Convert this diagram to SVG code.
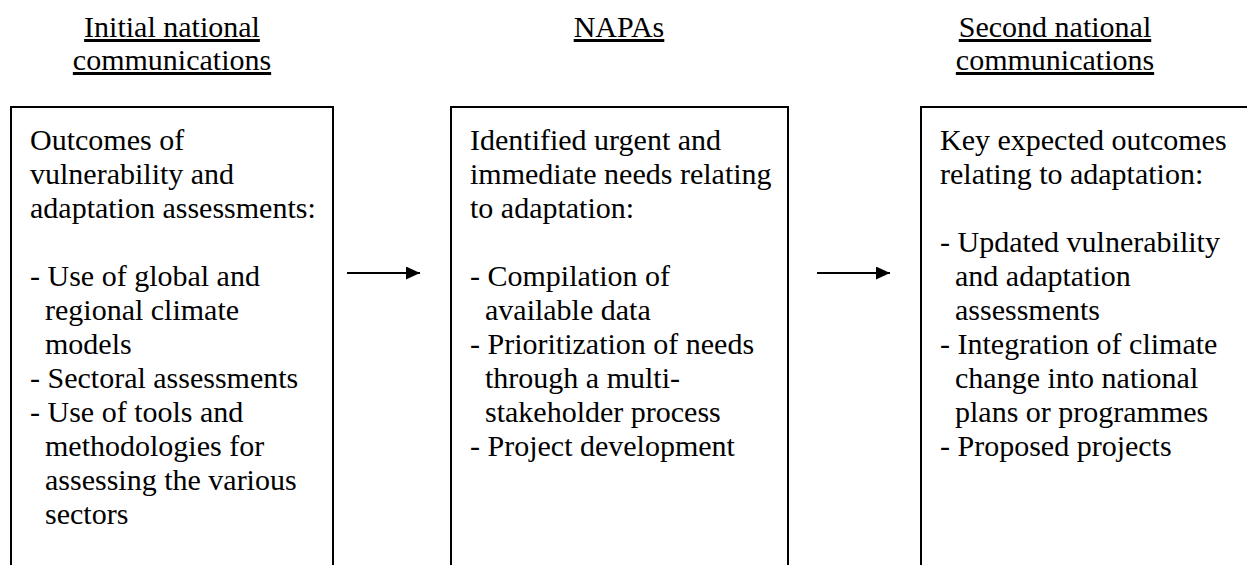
<svg xmlns="http://www.w3.org/2000/svg" width="1247" height="565" viewBox="0 0 1247 565">
<style>
text{font-family:"Liberation Serif","Times New Roman",serif;font-size:30px;fill:#000}
.t{text-anchor:middle;text-decoration:underline}
.box{fill:none;stroke:#000;stroke-width:2}
.c{stroke:#000;stroke-width:1.8;fill:none}
</style>
<defs>
<marker id="ah" markerWidth="15" markerHeight="13" refX="14" refY="6.5" orient="auto" markerUnits="userSpaceOnUse">
<path d="M0,0 L14,6.5 L0,13 Z" fill="#000"/>
</marker>
</defs>
<rect width="1247" height="565" fill="#fff"/>
<g id="node1">
<text class="t" x="172" y="37">Initial national</text>
<text class="t" x="172" y="70">communications</text>
<rect class="box" x="11" y="107" width="322" height="470"/>
<text x="30" y="150">Outcomes of</text>
<text x="30" y="184">vulnerability and</text>
<text x="30" y="218">adaptation assessments:</text>
<text x="30" y="286">- Use of global and</text>
<text x="45" y="320">regional climate</text>
<text x="45" y="354">models</text>
<text x="30" y="388">- Sectoral assessments</text>
<text x="30" y="422">- Use of tools and</text>
<text x="45" y="456">methodologies for</text>
<text x="45" y="490">assessing the various</text>
<text x="45" y="524">sectors</text>
</g>
<g id="node2">
<text class="t" x="619" y="37">NAPAs</text>
<rect class="box" x="451" y="107" width="337" height="470"/>
<text x="470" y="150">Identified urgent and</text>
<text x="470" y="184">immediate needs relating</text>
<text x="470" y="218">to adaptation:</text>
<text x="470" y="286">- Compilation of</text>
<text x="485" y="320">available data</text>
<text x="470" y="354">- Prioritization of needs</text>
<text x="485" y="388">through a multi-</text>
<text x="485" y="422">stakeholder process</text>
<text x="470" y="456">- Project development</text>
</g>
<g id="node3">
<text class="t" x="1055" y="37">Second national</text>
<text class="t" x="1055" y="70">communications</text>
<rect class="box" x="921" y="107" width="340" height="470"/>
<text x="940" y="150">Key expected outcomes</text>
<text x="940" y="184">relating to adaptation:</text>
<text x="940" y="252">- Updated vulnerability</text>
<text x="955" y="286">and adaptation</text>
<text x="955" y="320">assessments</text>
<text x="940" y="354">- Integration of climate</text>
<text x="955" y="388">change into national</text>
<text x="955" y="422">plans or programmes</text>
<text x="940" y="456">- Proposed projects</text>
</g>
<g id="connectors">
<line class="c" x1="347" y1="273" x2="420" y2="273" marker-end="url(#ah)"/>
<line class="c" x1="817" y1="273" x2="890" y2="273" marker-end="url(#ah)"/>
</g>
</svg>
